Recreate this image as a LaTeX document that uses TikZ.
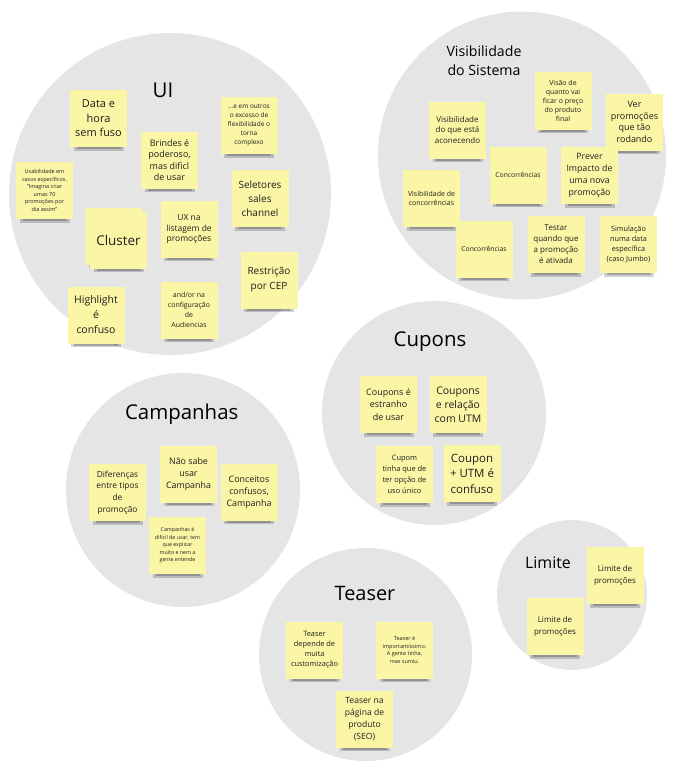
\documentclass[tikz,border=0pt]{standalone}
\usepackage{fontspec}
\setmainfont{Open Sans}
\usetikzlibrary{calc}

\definecolor{circlegray}{HTML}{E5E5E5}
\definecolor{notey}{HTML}{FBF6A6}
\definecolor{inkc}{HTML}{1E1E1E}

\newcommand{\fsz}[2]{\fontsize{#1}{#2}\selectfont}
% sticky note: name, centre, font size, leading, text
\newcommand{\sticky}[5]{%
  \fill[black, opacity=0.18] ($(#2)+(-25,26)$) rectangle ($(#2)+(25,32)$);
  \fill[black, opacity=0.22] ($(#2)+(-22,27)$) rectangle ($(#2)+(22,30.5)$);
  \node[note, font=\fsz{#3}{#4}] (#1) at (#2) {#5};
}

\begin{document}
\begin{tikzpicture}[x=1bp, y=-1bp]
    \tikzstyle{every node}+=[inner sep=0pt, text=inkc]
    \tikzstyle{note}=[fill=notey, minimum width=57bp, minimum height=57bp, align=center]
    \tikzstyle{group}=[fill=circlegray]
    \tikzstyle{title}=[align=center, text=black]
    \useasboundingbox (0,0) rectangle (678,771);

    % groups
    \fill[group] (170,194) circle (161);
    \fill[group] (522,155.5) circle (144);
    \fill[group] (434,413) circle (112);
    \fill[group] (183,490) circle (117);
    \fill[group] (365.5,654.5) circle (106.5);
    \fill[group] (572,595) circle (75);

    % UI
    \node[title, font=\fsz{20.5}{24}] (tUI) at (163,90) {UI};
    \sticky{dataHora}{98.5,118.5}{11}{14.5}{Data e\\hora\\sem fuso}
    \sticky{excesso}{249,125.5}{6.5}{9}{...e em outros\\o excesso de\\flexibilidade o\\torna\\complexo}
    \sticky{brindes}{169.5,160}{9}{11.5}{Brindes é\\poderoso,\\mas dificl\\de usar}
    \sticky{usabilidade}{44.5,190.5}{5.5}{7.5}{Usabilidade em\\casos especificos.\\"Imagina criar\\umas 70\\promoções por\\dia assim"}
    \sticky{seletores}{260,198.5}{10}{14}{Seletores\\sales\\channel}
    \sticky{clusterBack}{113.5,236}{1}{1}{}
    \sticky{cluster}{118.5,240}{13.5}{16}{Cluster}
    \sticky{uxLista}{189,229}{8.5}{11}{UX na\\listagem de\\promoções}
    \sticky{restricao}{269,280}{10}{15}{Restrição\\por CEP}
    \sticky{highlight}{96,315}{10.5}{15}{Highlight\\é\\confuso}
    \sticky{audiencias}{189,310}{7}{10}{and/or na\\configuração\\de\\Audiencias}

    % Visibilidade do Sistema
    \node[title, font=\fsz{14.2}{19}] (tVis) at (484,61) {Visibilidade\\do Sistema};
    \sticky{visaoPreco}{563,101}{7}{9}{Visão de\\quanto vai\\ficar o preço\\do produto\\final}
    \sticky{verPromo}{634.5,122}{9}{11.7}{Ver\\promoções\\que tão\\rodando}
    \sticky{visAcontece}{457.5,130}{8}{10.5}{Visibilidade\\do que está\\aconecendo}
    \sticky{concorrA}{518,175}{6.8}{9}{Concorrências}
    \sticky{prever}{589.5,175.5}{8.8}{12}{Prever\\Impacto de\\uma nova\\promoção}
    \sticky{visConcorr}{431.5,198.5}{7}{9}{Visibilidade de\\concorrências}
    \sticky{concorrB}{484,249}{6.8}{9}{Concorrências}
    \sticky{testar}{556,244.5}{8}{11}{Testar\\quando que\\a promoção\\é ativada}
    \sticky{simulacao}{628.5,244.5}{7.3}{10}{Simulação\\numa data\\específica\\(caso Jumbo)}

    % Cupons
    \node[title, font=\fsz{20.5}{24}] (tCupons) at (430,342) {Cupons};
    \sticky{estranho}{388.5,404.5}{9}{12.5}{Coupons é\\estranho\\de usar}
    \sticky{utmRel}{458,404.5}{10.5}{14}{Coupons\\e relação\\com UTM}
    \sticky{usoUnico}{404.5,474.5}{7.5}{11}{Cupom\\tinha que de\\ter opção de\\uso único}
    \sticky{utmConf}{472,473.5}{11.5}{15.5}{Coupon\\+ UTM é\\confuso}

    % Campanhas
    \node[title, font=\fsz{20.5}{24}] (tCamp) at (181.7,414) {Campanhas};
    \sticky{diferencas}{117.5,492.5}{8.4}{11.7}{Diferenças\\entre tipos\\de\\promoção}
    \sticky{naoSabe}{188.5,474}{8.9}{12.2}{Não sabe\\usar\\Campanha}
    \sticky{conceitos}{249,492}{8.9}{12.2}{Conceitos\\confusos,\\Campanha}
    \sticky{dificil}{177.5,545.5}{5.3}{7.5}{Campanhas é\\dificil de usar, tem\\que explicar\\muito e nem a\\gente entende}

    % Teaser
    \node[title, font=\fsz{20}{24}] (tTeaser) at (365,593) {Teaser};
    \sticky{customiza}{314.5,650}{7.4}{10}{Teaser\\depende de\\muita\\customização}
    \sticky{importante}{404.5,650}{5.5}{7.5}{Teaser é\\importantíssimo.\\A gente tinha,\\mas sumiu.}
    \sticky{seo}{364.5,719}{8.6}{11.8}{Teaser na\\página de\\produto\\(SEO)}

    % Limite
    \node[title, font=\fsz{16}{20}] (tLimite) at (548,563) {Limite};
    \sticky{limiteA}{615,575.5}{8}{11.7}{Limite de\\promoções}
    \sticky{limiteB}{555,626.5}{8}{11.7}{Limite de\\promoções}
\end{tikzpicture}
\end{document}
